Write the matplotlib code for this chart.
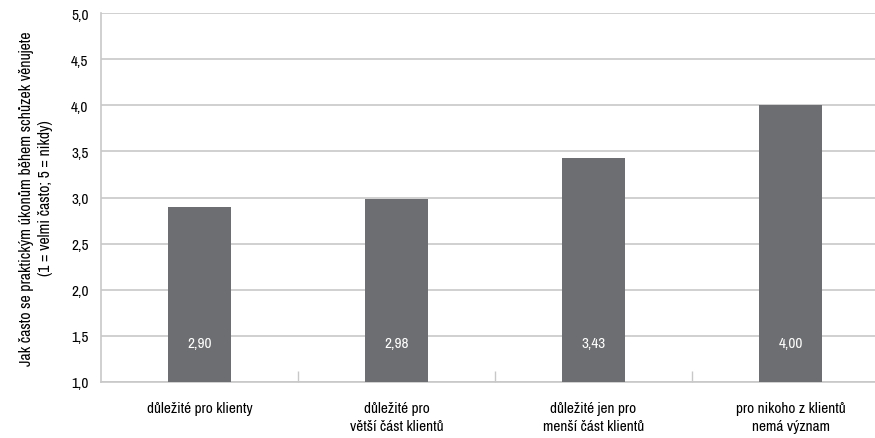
import matplotlib
matplotlib.use('Agg')
import matplotlib.pyplot as plt
from matplotlib import font_manager
import numpy as np

categories = ['důležité pro klienty', 'důležité pro\nvětší část klientů',
              'důležité jen pro\nmenší část klientů', 'pro nikoho z klientů\nnemá význam']
values = [2.90, 2.98, 3.43, 4.00]
value_labels = ['2,90', '2,98', '3,43', '4,00']
yticks = [1.0, 1.5, 2.0, 2.5, 3.0, 3.5, 4.0, 4.5, 5.0]
ytick_labels = ['1,0', '1,5', '2,0', '2,5', '3,0', '3,5', '4,0', '4,5', '5,0']

# the original uses a condensed face; look for one that is installed
prefs = ['narrow', 'opensans_condensed', 'opensans-condensed', 'condensed']
narrow = None
for key in prefs:
    for f in font_manager.fontManager.ttflist:
        nm = f.fname.lower()
        if key in nm and not any(b in nm for b in ['bold', 'oblique', 'italic', 'light']):
            narrow = f
            break
    if narrow is not None:
        break
if narrow is not None:
    fp = font_manager.FontProperties(fname=narrow.fname)
else:
    fp = font_manager.FontProperties(family='DejaVu Sans', stretch='condensed')

fig = plt.figure(figsize=(8.75, 4.39), dpi=100)
W, H = 875, 439
# axes runs past the right edge of the picture, as in the original
ax = fig.add_axes([101 / W, (H - 383) / H, 788 / W, 369 / H])

bar_col = '#6d6e71'
grid_col = '#c8c8c8'

x = np.arange(len(categories))
ax.bar(x, np.array(values) - 1.0, bottom=1.0, width=0.315, color=bar_col, zorder=3)

for i in range(len(values)):
    ax.text(x[i], 1.42, value_labels[i], color='white', ha='center', va='center',
            fontproperties=fp, fontsize=11, zorder=4)

ax.set_xlim(-0.5, 3.5)
ax.set_ylim(1.0, 5.0)
ax.set_yticks(yticks)
ax.set_yticklabels(ytick_labels, fontproperties=fp, fontsize=11)
ax.yaxis.grid(True, color=grid_col, linewidth=1.2)
ax.set_axisbelow(True)
ax.tick_params(axis='y', length=0, pad=9)

ax.set_xticks(x)
ax.set_xticklabels(categories, fontproperties=fp, fontsize=11, linespacing=1.35, va='top')
ax.tick_params(axis='x', which='major', length=0, pad=14)
ax.set_xticks([0.5, 1.5, 2.5], minor=True)
ax.tick_params(axis='x', which='minor', direction='in', length=8, color=grid_col, width=1)

for s in ['top', 'right']:
    ax.spines[s].set_visible(False)
ax.spines['left'].set_color(grid_col)
ax.spines['bottom'].set_color(grid_col)
ax.spines['left'].set_linewidth(1.2)
ax.spines['bottom'].set_linewidth(1.2)

ax.set_ylabel('Jak často se praktickým úkonům během schůzek věnujete\n(1 = velmi často; 5 = nikdy)',
              fontproperties=fp, fontsize=11.3, linespacing=1.3)
ax.yaxis.set_label_coords(-48 / 788, 0.50)

fig.savefig('out.png', dpi=100)
